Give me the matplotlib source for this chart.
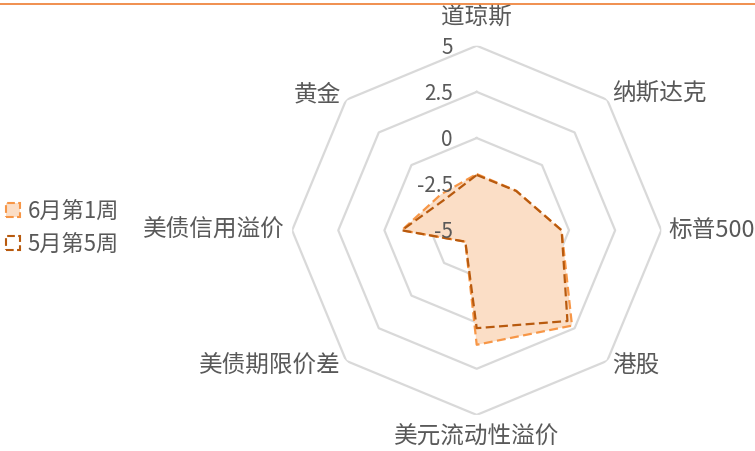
import numpy as np
import matplotlib.pyplot as plt
from matplotlib.patches import Patch
from matplotlib.transforms import offset_copy

plt.rcParams['font.family'] = ['Noto Sans CJK SC', 'DejaVu Sans']

categories = ['道琼斯', '纳斯达克', '标普500', '港股', '美元流动性溢价',
              '美债期限价差', '美债信用溢价', '黄金']
jun_w1 = [-1.95, -1.97, -0.4, 2.3, 1.2, -4.13, -0.94, -2.25]
may_w5 = [-2.0, -1.98, -0.4, 1.95, 0.3, -4.13, -0.94, -2.6]
ticks = [-5, -2.5, 0, 2.5, 5]
tick_labels = ['-5', '-2.5', '0', '2.5', '5']
series_names = ['6月第1周', '5月第5周']

light_fill = '#FBDEC6'
light_edge = '#F79646'
dark_edge = '#B85A0E'
grey = '#595959'

n = len(categories)
theta = np.pi / 2 - np.arange(n) * 2 * np.pi / n
theta_c = np.append(theta, theta[0])

fig = plt.figure(figsize=(7.55, 4.51), dpi=100)
ax = fig.add_axes([0.3869, 0.080, 0.489, 0.8186], projection='polar')
ax.set_ylim(-5, 5)
ax.grid(False)
ax.spines['polar'].set_visible(False)
ax.set_xticks([])
ax.set_yticks([])
ax.patch.set_alpha(0)

# octagon grid
for t in ticks[1:]:
    ax.plot(theta_c, [t] * (n + 1), color='#D9D9D9', lw=1.6, zorder=1)

# series
j = np.append(jun_w1, jun_w1[0])
m = np.append(may_w5, may_w5[0])
ax.fill(theta_c, j, color=light_fill, zorder=2, lw=0)
ax.plot(theta_c, j, color=light_edge, lw=1.6, ls=(0, (4, 2)), zorder=3)
ax.plot(theta_c, m, color=dark_edge, lw=1.6, ls=(0, (4, 2)), zorder=4)

# radial tick labels
tr = offset_copy(ax.transData, fig=fig, x=-24, y=-2, units='dots')
for t, lab in zip(ticks, tick_labels):
    ax.text(np.pi / 2, t, lab, transform=tr, ha='right', va='center',
            fontsize=15, color=grey, zorder=5)

# category labels
px_per_unit = 184.6 / 10
for i, (ang, lab) in enumerate(zip(theta, categories)):
    c = np.cos(ang)
    if abs(c) < 0.01:
        ha = 'center'
        r = -5 + (212 if np.sin(ang) > 0 else 207) / px_per_unit
    else:
        ha = 'left' if c > 0 else 'right'
        r = -5 + 192 / px_per_unit
    ax.text(ang, r, lab, ha=ha, va='center', fontsize=17, color=grey,
            clip_on=False)

handles = [Patch(facecolor=light_fill, edgecolor=light_edge, ls='--', lw=1.5),
           Patch(facecolor='white', edgecolor=dark_edge, ls='--', lw=1.5)]
fig.legend(handles, series_names, loc='center left',
           bbox_to_anchor=(-0.018, 1 - 228 / 451), frameon=False,
           fontsize=16, labelcolor=grey, handlelength=0.6, handleheight=0.6,
           handletextpad=0.35, labelspacing=0.45)

fig.add_artist(plt.Line2D([0, 1], [1 - 4 / 451] * 2, color='#ED7D31', lw=1.2))

fig.savefig('out.png', dpi=100)
